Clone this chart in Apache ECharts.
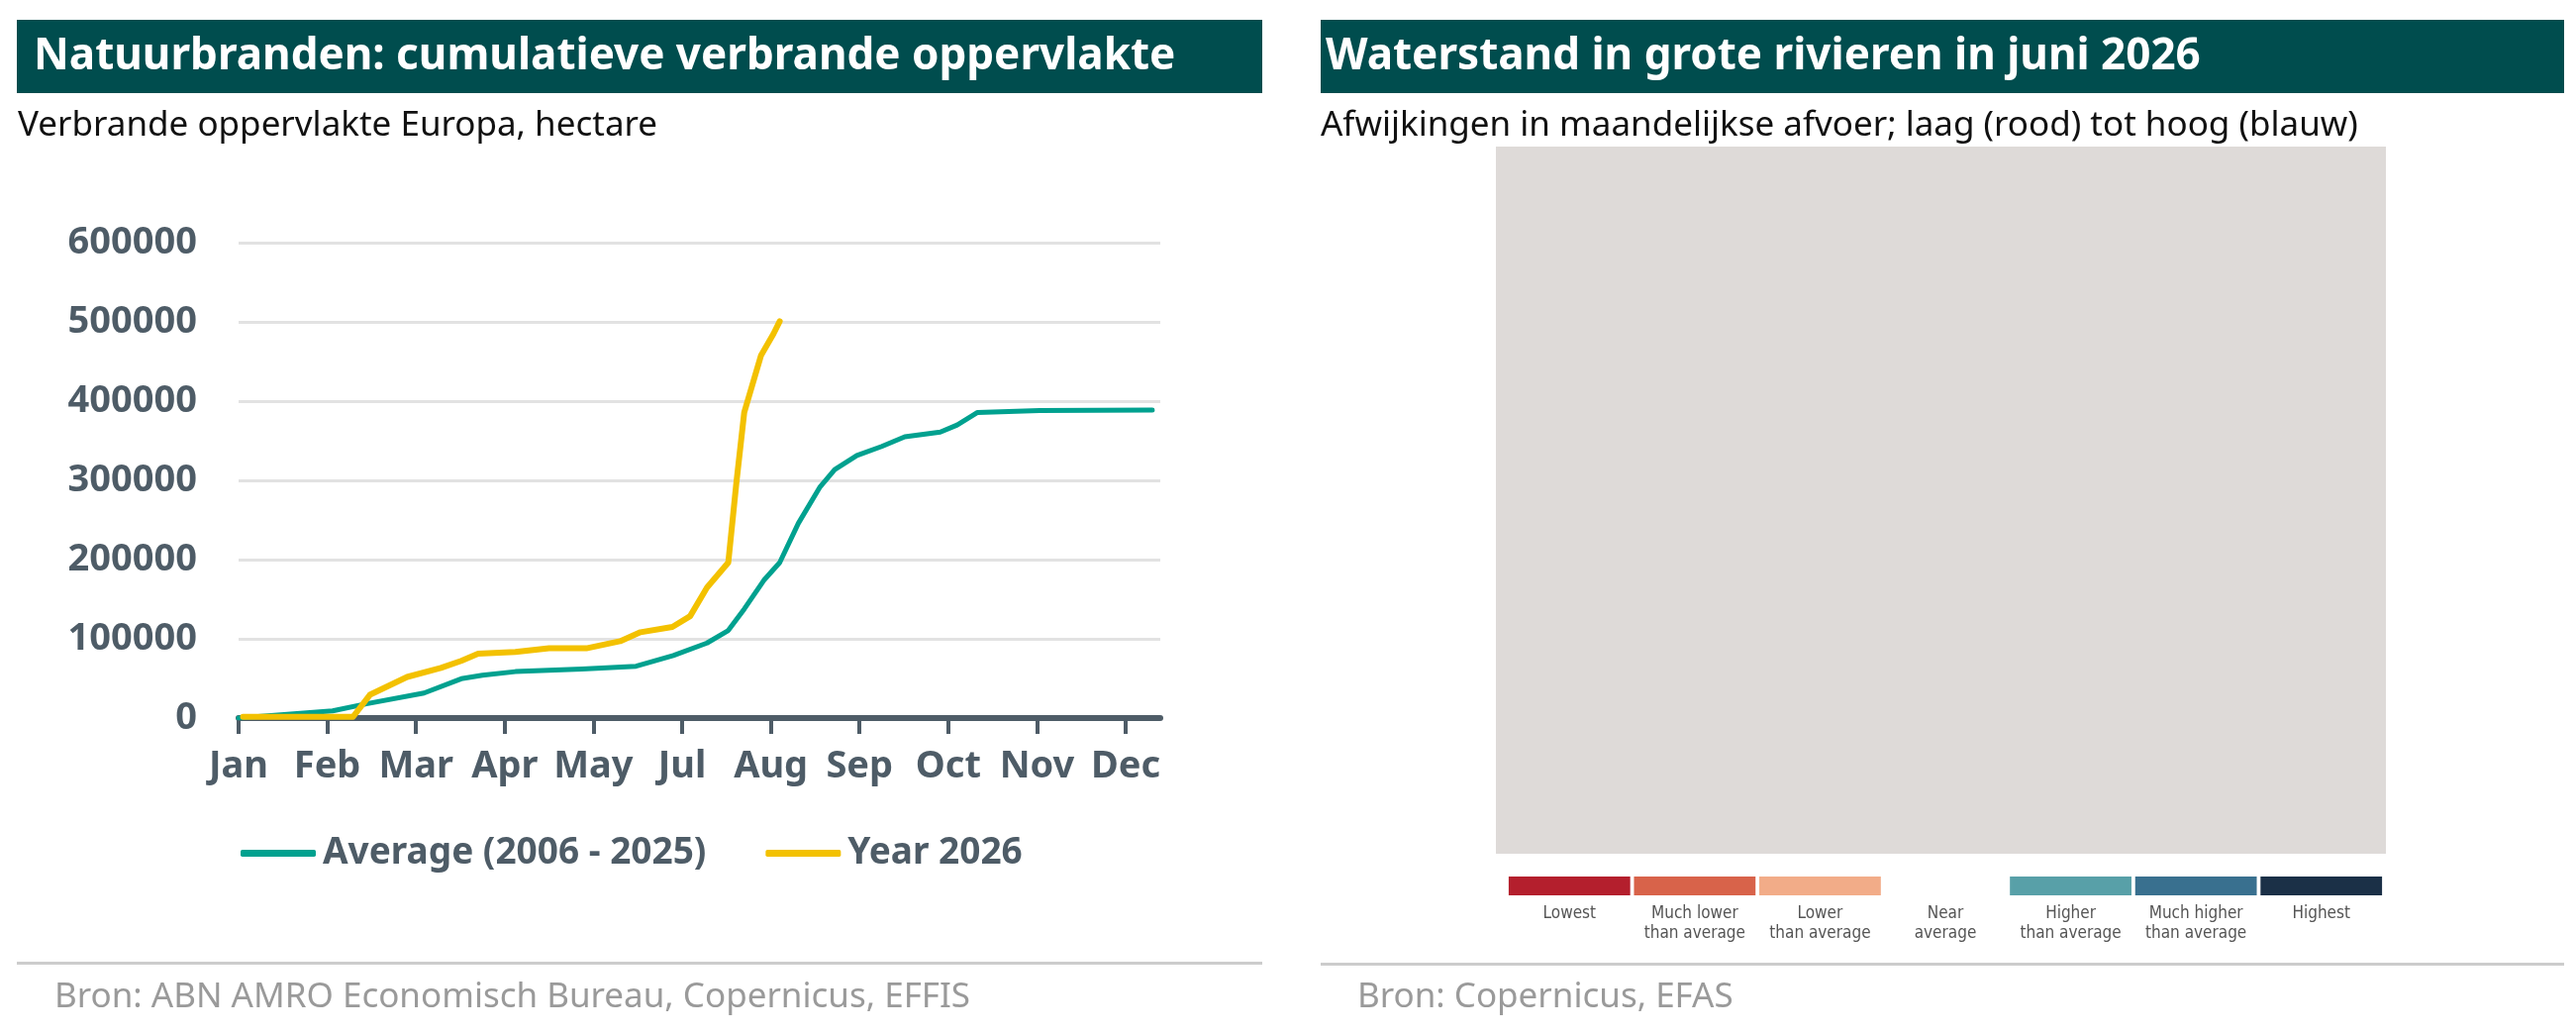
<!DOCTYPE html>
<html>
<head>
<meta charset="utf-8">
<script src="https://cdn.jsdelivr.net/npm/echarts@6/dist/echarts.min.js"></script>
<style>
  html, body { margin: 0; padding: 0; background: #fff; }
  #main { width: 2602px; height: 1044px; }
</style>
</head>
<body>
<div id="main"></div>
<script>
// tick labels (June is missing in the original chart)
const months = ['Jan', 'Feb', 'Mar', 'Apr', 'May', 'Jul', 'Aug', 'Sep', 'Oct', 'Nov', 'Dec'];
const monthTicks = [0, 1, 2, 3, 4, 5, 6, 7, 8, 9, 10];

// cumulative burnt area, [month position, hectare]
const averageData = [
    [0, 0], [1.06, 9000], [1.44, 18000], [2.09, 31600], [2.51, 49600], [2.75, 54000],
    [3.12, 58600], [3.87, 61800], [4.48, 65400], [4.9, 79000], [5.28, 94700],
    [5.52, 110500], [5.7, 137600], [5.92, 173700], [6.1, 196200], [6.31, 245800],
    [6.55, 291000], [6.72, 313500], [6.97, 331500], [7.25, 342800], [7.51, 355000],
    [7.91, 360900], [8.1, 369900], [8.33, 385700], [9.03, 388000], [10.3, 388800]
];
const yearData = [
    [0.05, 1500], [1.29, 1500], [1.48, 29300], [1.9, 51900], [2.28, 63200], [2.51, 72200],
    [2.7, 81200], [3.12, 83500], [3.5, 88000], [3.92, 88000], [4.3, 97000], [4.53, 108300],
    [4.89, 115000], [5.09, 128600], [5.28, 164700], [5.52, 196200], [5.61, 295500],
    [5.7, 385700], [5.89, 457900], [6.03, 485000], [6.1, 500700]
];

// map legend classes
const flowClasses = ['Lowest', 'Much lower\nthan average', 'Lower\nthan average', 'Near\naverage',
    'Higher\nthan average', 'Much higher\nthan average', 'Highest'];
const flowColors = ['#b41f2d', '#d8634a', '#f2ac88', '#ffffff', '#58a0a8', '#39708f', '#1b3047'];

const axisColor = '#4e5c67';
const font = '"Noto Sans", sans-serif';

let chart = echarts.init(document.getElementById('main'));

let option = {
    animation: false,
    textStyle: { fontFamily: font },
    grid: [
        { left: 241, top: 245, width: 931, height: 480 },
        { left: 1522, top: 885, width: 886, height: 19 }
    ],
    legend: {
        data: ['Average (2006 - 2025)', 'Year 2026'],
        left: 238,
        top: 838,
        icon: 'roundRect',
        itemWidth: 76,
        itemHeight: 7,
        itemGap: 60,
        textStyle: { color: axisColor, fontSize: 37, fontWeight: 'bold', padding: [0, 0, 0, 2] }
    },
    xAxis: [{
        gridIndex: 0,
        type: 'value',
        min: 0,
        max: 10.39,
        interval: 1,
        splitLine: { show: false },
        axisLine: { lineStyle: { color: axisColor, width: 6 } },
        axisTick: { show: true, length: 16, lineStyle: { color: axisColor, width: 4 }, customValues: monthTicks },
        axisLabel: {
            customValues: monthTicks,
            margin: 30,
            color: axisColor,
            fontSize: 38,
            fontWeight: 'bold',
            formatter: function (v) { return months[Math.round(v)] || ''; }
        }
    }, {
        gridIndex: 1,
        type: 'category',
        data: flowClasses,
        axisLine: { show: false },
        axisTick: { show: false },
        axisLabel: {
            margin: 9,
            color: '#555',
            fontSize: 17,
            lineHeight: 20,
            fontFamily: '"Liberation Sans Narrow", "DejaVu Sans Condensed", sans-serif',
            interval: 0
        }
    }],
    yAxis: [{
        gridIndex: 0,
        type: 'value',
        min: 0,
        max: 600000,
        interval: 100000,
        axisLine: { show: false },
        axisTick: { show: false },
        splitLine: { lineStyle: { color: '#e2e2e2', width: 3 } },
        axisLabel: {
            margin: 42, color: axisColor, fontSize: 38, fontWeight: 'bold',
            formatter: function (v) { return String(v); }
        }
    }, {
        gridIndex: 1,
        type: 'value',
        min: 0,
        max: 1,
        show: false
    }],
    series: [{
        name: 'Average (2006 - 2025)',
        type: 'line',
        xAxisIndex: 0,
        yAxisIndex: 0,
        data: averageData,
        showSymbol: false,
        color: '#00a18f',
        lineStyle: { width: 5, cap: 'round', join: 'round' }
    }, {
        name: 'Year 2026',
        type: 'line',
        xAxisIndex: 0,
        yAxisIndex: 0,
        data: yearData,
        showSymbol: false,
        color: '#f3c100',
        lineStyle: { width: 6, cap: 'round', join: 'round' }
    }, {
        name: 'flow',
        type: 'bar',
        xAxisIndex: 1,
        yAxisIndex: 1,
        barCategoryGap: '3%',
        data: flowClasses.map(function (c, i) {
            return { value: 1, itemStyle: { color: flowColors[i] } };
        })
    }],
    graphic: [
        // title bars
        { type: 'rect', shape: { x: 17, y: 20, width: 1258, height: 74 }, style: { fill: '#004d4e' } },
        { type: 'text', x: 34, y: 57, style: { text: 'Natuurbranden: cumulatieve verbrande oppervlakte',
            fill: '#fff', font: 'bold 44px ' + font, textVerticalAlign: 'middle' } },
        { type: 'rect', shape: { x: 1334, y: 20, width: 1256, height: 74 }, style: { fill: '#004d4e' } },
        { type: 'text', x: 1339, y: 57, style: { text: 'Waterstand in grote rivieren in juni 2026',
            fill: '#fff', font: 'bold 44px ' + font, textVerticalAlign: 'middle' } },
        // subtitles
        { type: 'text', x: 18, y: 127, style: { text: 'Verbrande oppervlakte Europa, hectare',
            fill: '#111', font: '35px ' + font, textVerticalAlign: 'middle' } },
        { type: 'text', x: 1334, y: 127, style: { text: 'Afwijkingen in maandelijkse afvoer; laag (rood) tot hoog (blauw)',
            fill: '#111', font: '35px ' + font, textVerticalAlign: 'middle' } },
        // map area (raster map in the original)
        { type: 'rect', shape: { x: 1511, y: 148, width: 899, height: 714 }, style: { fill: '#dedad8' } },
        // footer rules and sources
        { type: 'rect', shape: { x: 17, y: 971, width: 1258, height: 3 }, style: { fill: '#cccccc' } },
        { type: 'rect', shape: { x: 1334, y: 972, width: 1256, height: 3 }, style: { fill: '#cccccc' } },
        { type: 'text', x: 55, y: 1007, style: { text: 'Bron: ABN AMRO Economisch Bureau, Copernicus, EFFIS',
            fill: '#9a9a9a', font: '35px ' + font, textVerticalAlign: 'middle' } },
        { type: 'text', x: 1371, y: 1007, style: { text: 'Bron: Copernicus, EFAS',
            fill: '#9a9a9a', font: '35px ' + font, textVerticalAlign: 'middle' } }
    ]
};

chart.setOption(option);
</script>
</body>
</html>
